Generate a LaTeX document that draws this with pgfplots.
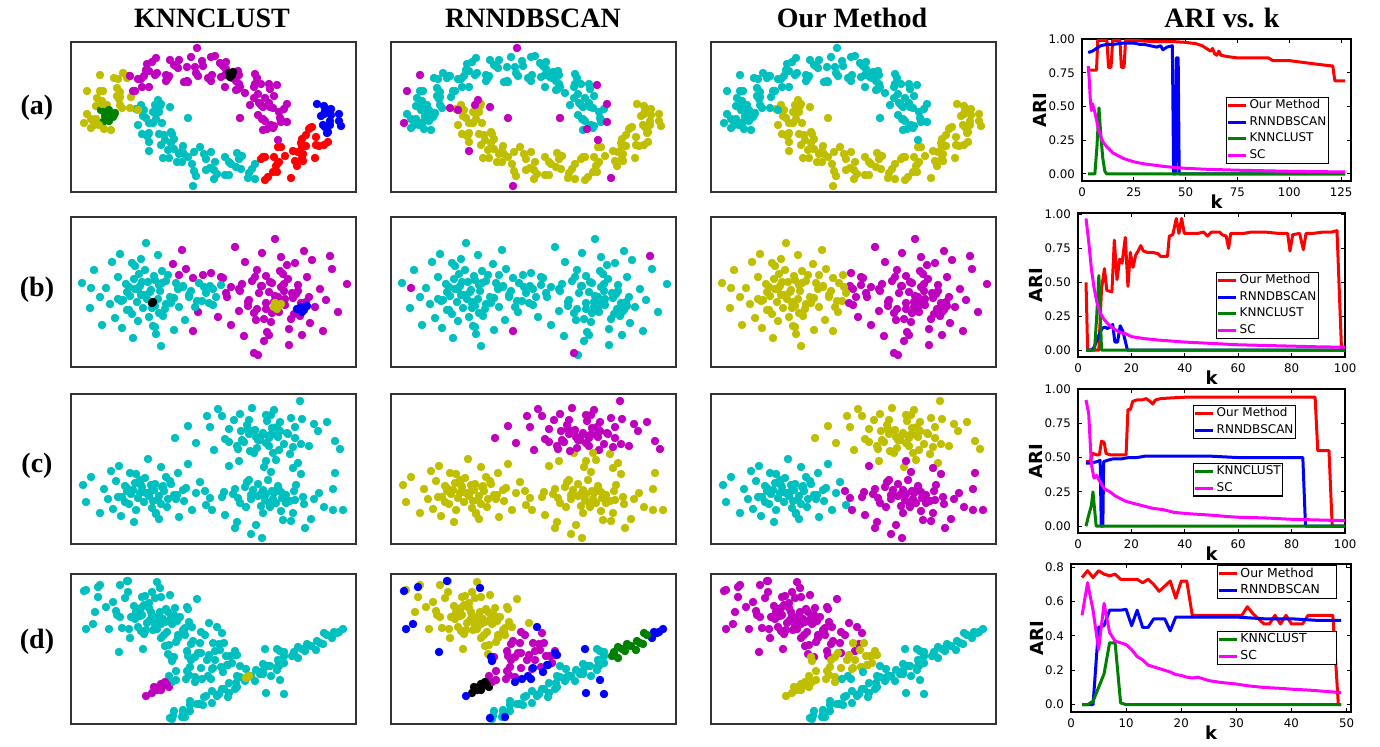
\documentclass[border=0pt]{standalone}
\usepackage{fontspec}
\setmainfont{Liberation Serif}
\newfontfamily\dejavu{DejaVu Sans}
\usepackage{pgfplots}
\usepackage{pgfplotstable}
\pgfplotsset{compat=1.18}
\definecolor{cC}{RGB}{0,191,191}
\definecolor{cM}{RGB}{191,0,191}
\definecolor{cY}{RGB}{191,191,0}
\definecolor{cR}{RGB}{255,0,0}
\definecolor{cB}{RGB}{0,0,255}
\definecolor{cG}{RGB}{0,128,0}
\definecolor{cK}{RGB}{0,0,0}
\definecolor{lR}{RGB}{255,0,0}
\definecolor{lB}{RGB}{0,0,255}
\definecolor{lG}{RGB}{0,128,0}
\definecolor{lM}{RGB}{255,0,255}
\newcommand\titlef{\fontsize{14}{16}\selectfont\bfseries}
\pgfplotsset{
 panel/.style={scale only axis, anchor=south west, width=142.5pt, height=75pt,
   xmin=0, xmax=285, ymin=0, ymax=150, y dir=reverse, xtick=\empty, ytick=\empty,
   axis line style={black!80, line width=0.6pt}},
 clus/.style={only marks, scatter, scatter src=explicit symbolic, mark=*, mark size=1.9pt,
   scatter/classes={c={mark=*,draw=cC,fill=cC}, m={mark=*,draw=cM,fill=cM},
     y={mark=*,draw=cY,fill=cY}, r={mark=*,draw=cR,fill=cR}, b={mark=*,draw=cB,fill=cB},
     g={mark=*,draw=cG,fill=cG}, k={mark=*,draw=cK,fill=cK}}},
 ari/.style={scale only axis, anchor=south west,
   axis line style={black, line width=0.6pt},
   tick style={black, line width=0.5pt}, tick align=inside, major tick length=2pt,
   tick label style={font=\dejavu\fontsize{5.9}{6.5}\selectfont},
   /pgf/number format/assume math mode=true,
   xlabel={k}, ylabel={ARI},
   label style={font=\dejavu\bfseries\fontsize{9}{10}\selectfont},
   xlabel style={yshift=8pt}, ylabel style={yshift=-6pt},
   legend cell align=left,
   legend style={font=\dejavu\fontsize{6}{7}\selectfont, draw=black, line width=0.6pt, inner sep=0pt, row sep=0.3pt, nodes={inner sep=1pt}},
   legend image code/.code={\draw[#1] (1.5pt,0pt) -- (10.5pt,0pt);}},
 sR/.style={color=lR, line width=1.5pt, line join=round},
 sB/.style={color=lB, line width=1.5pt, line join=round},
 sG/.style={color=lG, line width=1.5pt, line join=round},
 sM/.style={color=lM, line width=1.5pt, line join=round},
}
\newcommand\lw[1]{\makebox[47pt][l]{#1}}
\begin{document}
\pgfplotstableread[row sep=\\]{
x y k r o\\
40 88 y c c\\ 23 83 y c c\\ 32 80 g c c\\ 16 72 y c c\\ 39 73 g c c\\ 25 64 y c c\\ 36 63 y c c\\ 51 66 y c c\\ 32 49 y c c\\ 49 55 y c c\\ 46 46 y c c\\ 43 36 y c c\\ 64 49 m c c\\ 58 34 m c c\\ 67 37 m c c\\ 78 45 m c c\\ 75 28 m c c\\ 84 33 m c c\\ 85 16 m c c\\ 97 36 m c c\\ 99 18 m c c\\ 107 26 m c c\\ 113 40 m c c\\ 120 15 m c c\\ 125 31 m c c\\ 132 24 m c c\\ 140 15 m c c\\ 140 39 m c c\\ 152 24 m c c\\ 154 33 m c c\\ 154 45 m c c\\ 168 33 m c c\\ 168 42 m c c\\ 184 32 m c c\\ 174 51 m c c\\ 190 42 m c c\\ 187 52 m c c\\ 179 63 m c c\\ 203 54 m c c\\ 192 65 m c c\\ 202 66 m c c\\ 213 67 m c c\\ 192 77 m c c\\ 210 78 m c c\\ 203 84 m c c\\ 192 88 m c c\\
20 86 y c c\\ 38 79 g c c\\ 30 68 g c c\\ 26 56 y c c\\ 48 57 y c c\\ 60 55 y c c\\ 56 36 y c c\\ 70 37 m c c\\ 76 22 m c c\\ 95 39 m c c\\ 103 23 m c c\\ 116 25 m c c\\ 127 34 m c c\\ 144 14 m c c\\ 150 35 m c c\\ 167 29 m c c\\ 167 47 m c c\\ 183 45 m c c\\ 199 47 m c c\\ 190 63 m c c\\ 187 73 m c c\\ 209 76 m c c\\ 202 86 m c c\\
28 83 y c c\\ 38 74 g c c\\ 31 59 y c c\\ 46 54 y c c\\ 47 37 y c c\\ 71 45 m c c\\ 78 29 m c c\\ 95 33 m c c\\ 108 18 m c c\\ 124 25 m c c\\ 137 36 m c c\\ 155 27 m c c\\ 165 39 m c c\\ 186 36 m c c\\ 183 56 m c c\\ 198 61 m c c\\ 208 70 m c c\\ 200 83 m c c\\ 25 77 y c c\\ 49 63 y c c\\ 52 31 y c c\\ 86 31 m c c\\ 116 39 m c c\\ 149 21 m c c\\ 169 45 m c c\\ 194 56 m c c\\ 194 79 m c c\\
33 87 y c c\\ 20 77 y c c\\ 43 73 g c c\\ 31 62 y c c\\ 29 49 y c c\\ 49 50 y c c\\ 62 49 m c c\\ 59 34 m c c\\ 73 34 m c c\\ 81 20 m c c\\ 98 34 m c c\\ 105 24 m c c\\ 117 40 m c c\\ 131 19 m c c\\ 141 33 m c c\\ 155 20 m c c\\ 161 36 m c c\\ 165 48 m c c\\ 184 42 m c c\\ 198 42 m c c\\ 188 61 m c c\\ 199 65 m c c\\ 191 77 m c c\\ 210 80 m c c\\
90 62 c y y\\ 65 67 c y y\\ 82 70 c y y\\ 75 76 c y y\\ 67 83 c y y\\ 91 81 c y y\\ 78 91 c y y\\ 88 92 c y y\\ 100 90 c y y\\ 90 103 c y y\\ 100 101 c y y\\ 92 116 c y y\\ 112 104 c y y\\ 106 120 c y y\\ 117 115 c y y\\ 129 105 c y y\\ 123 129 c y y\\ 135 117 c y y\\ 139 126 c y y\\ 143 137 c y y\\ 154 115 c y y\\ 158 133 c y y\\ 165 125 c y y\\ 171 114 c y y\\ 178 131 c y y\\ 184 122 c y y\\ 194 138 r y y\\ 194 115 r y y\\ 206 130 r y y\\ 208 120 r y y\\ 207 105 r y y\\ 226 124 r y y\\ 222 109 r y y\\ 232 112 r y y\\ 244 116 r y y\\ 231 97 r y y\\ 248 104 r y y\\ 245 95 r y y\\ 239 86 r y y\\ 257 90 b y y\\ 252 83 b y y\\ 270 84 b y y\\ 250 74 b y y\\ 268 72 b y y\\ 260 67 b y y\\ 246 62 b y y\\
89 64 c y y\\ 72 74 c y y\\ 82 81 c y y\\ 76 94 c y y\\ 101 92 c y y\\ 97 108 c y y\\ 108 112 c y y\\ 123 110 c y y\\ 125 134 c y y\\ 144 120 c y y\\ 154 133 c y y\\ 168 117 c y y\\ 181 127 c y y\\ 197 135 r y y\\ 203 115 r y y\\ 210 105 r y y\\ 231 116 r y y\\ 235 104 r y y\\ 253 103 r y y\\ 241 85 r y y\\ 259 83 b y y\\ 260 73 b y y\\ 253 64 b y y\\
73 68 c y y\\ 85 77 c y y\\ 77 93 c y y\\ 94 98 c y y\\ 103 107 c y y\\ 111 120 c y y\\ 133 112 c y y\\ 143 128 c y y\\ 160 122 c y y\\ 177 136 c y y\\ 190 117 r y y\\ 207 121 r y y\\ 224 119 r y y\\ 231 105 r y y\\ 235 93 r y y\\ 256 91 b y y\\ 259 79 b y y\\ 255 67 b y y\\ 85 72 c y y\\ 78 100 c y y\\ 111 109 c y y\\ 135 128 c y y\\ 166 111 c y y\\ 202 130 r y y\\ 227 110 r y y\\ 257 100 r y y\\ 253 72 b y y\\
70 63 c y y\\ 88 70 c y y\\ 78 81 c y y\\ 71 92 c y y\\ 93 93 c y y\\ 103 97 c y y\\ 98 116 c y y\\ 113 112 c y y\\ 121 122 c y y\\ 140 110 c y y\\ 146 132 c y y\\ 158 120 c y y\\ 170 127 c y y\\ 184 137 c y y\\ 192 115 r y y\\ 205 124 r y y\\ 214 114 r y y\\ 232 119 r y y\\ 230 101 r y y\\ 245 103 r y y\\ 238 87 r y y\\ 254 85 b y y\\ 268 79 b y y\\ 254 69 b y y\\
126 6 m m c\\ 29 33 y m c\\ 16 49 y m c\\ 13 81 y m c\\ 87 58 c m y\\ 84 63 c m y\\ 59 66 y m c\\ 67 68 y m c\\ 99 65 c m y\\ 117 76 c m y\\ 206 43 m m c\\ 216 62 m m c\\ 216 80 m m c\\ 196 87 m m c\\ 207 98 m m c\\ 169 76 m m c\\ 78 109 c m y\\ 122 144 c m y\\ 220 136 r m y\\
36 70 g c c\\ 40 72 g c c\\ 34 74 g c c\\ 42 75 g c c\\ 38 68 g c c\\ 44 71 g c c\\ 158 31 k c c\\ 161 33 k c c\\ 159 35 k c c\\ 162 30 k c c\\
}\rowa
\pgfplotstableread[row sep=\\]{
x y k r o\\
77 65 c c y\\ 52 83 c c y\\ 108 90 c c y\\ 64 49 c c y\\ 92 99 c c y\\ 35 71 c c y\\ 82 109 c c y\\ 73 78 c c y\\ 122 61 m c y\\ 58 93 c c y\\ 87 38 c c y\\ 44 101 c c y\\ 99 80 c c y\\ 68 57 c c y\\ 131 84 c c y\\ 23 53 c c y\\ 84 89 c c y\\ 55 67 c c y\\ 102 47 m c y\\ 62 121 c c y\\ 89 74 c c y\\ 39 87 c c y\\ 78 100 c c y\\ 49 37 c c y\\ 114 103 c c y\\ 69 69 c c y\\ 95 64 c c y\\ 19 91 c c y\\ 75 26 c c y\\ 107 72 c c y\\ 59 79 c c y\\ 85 117 c c y\\ 47 60 c c y\\ 127 95 m c y\\ 66 85 c c y\\ 91 54 c c y\\ 31 108 c c y\\ 80 73 c c y\\ 51 111 c c y\\ 111 33 m c y\\ 72 91 c c y\\ 100 86 c c y\\ 41 45 c c y\\ 88 68 c c y\\ 56 75 c c y\\ 118 78 c c y\\ 63 62 c c y\\ 76 82 c c y\\ 11 66 c c y\\ 103 113 c c y\\ 70 42 c c y\\ 94 92 c c y\\ 29 80 c c y\\ 83 59 c c y\\ 61 97 c c y\\ 139 69 c c m\\ 47 82 c c y\\ 90 129 c c y\\ 67 72 c c y\\ 105 66 c c y\\
70 78 c c y\\ 84 63 c c y\\ 88 96 c c y\\ 58 70 c c y\\ 95 87 c c y\\ 74 53 c c y\\ 103 81 c c y\\ 79 75 c c y\\ 67 104 c c y\\ 91 66 c c y\\ 50 84 c c y\\ 97 58 c c y\\ 81 91 c c y\\ 64 72 c c y\\ 84 110 c c y\\ 61 46 c c y\\ 87 82 c c y\\ 71 65 c c y\\ 56 93 c c y\\ 112 69 c c y\\
201 66 m c m\\ 230 86 m c m\\ 168 94 m c m\\ 216 48 m c m\\ 185 103 m c m\\ 249 72 m c m\\ 196 115 m c m\\ 207 80 m c m\\ 152 61 m c m\\ 223 97 m c m\\ 191 36 m c m\\ 239 106 m c m\\ 178 83 m c m\\ 212 57 m c m\\ 142 88 c c m\\ 261 52 m c m\\ 195 92 m c m\\ 227 68 m c m\\ 174 45 m c m\\ 218 128 m c m\\ 188 76 m c m\\ 244 90 m c m\\ 200 105 m c m\\ 233 34 m c m\\ 160 108 m c m\\ 210 70 m c m\\ 181 64 m c m\\ 267 95 m c m\\ 204 22 m c m\\ 169 74 m c m\\ 222 81 m c m\\ 193 124 m c m\\ 236 60 m c m\\ 147 100 m c m\\ 214 88 m c m\\ 186 53 m c m\\ 252 114 m c m\\ 198 75 m c m\\ 231 118 m c m\\ 164 30 m c m\\ 208 95 m c m\\ 177 89 m c m\\ 241 43 m c m\\ 190 69 m c m\\ 225 77 m c m\\ 156 80 m c m\\ 217 62 m c m\\ 203 85 m c m\\ 276 67 m c m\\ 173 119 m c m\\ 210 40 m c m\\ 183 96 m c m\\ 255 83 m c m\\ 195 59 m c m\\ 220 102 m c m\\ 133 70 c c y\\ 235 85 m c m\\ 187 138 m c m\\ 213 74 m c m\\ 171 67 m c m\\
214 82 m c m\\ 199 65 m c m\\ 193 102 m c m\\ 227 74 m c m\\ 186 92 m c m\\ 209 54 m c m\\ 177 85 m c m\\ 204 79 m c m\\ 218 112 m c m\\ 191 69 m c m\\ 238 80 m c m\\ 184 60 m c m\\ 201 96 m c m\\ 221 76 m c m\\ 198 118 m c m\\ 224 46 m c m\\ 195 86 m c m\\ 213 67 m c m\\ 229 99 m c m\\ 168 72 m c m\\
112 70 c c y\\ 120 74 c c y\\ 128 66 c c y\\ 135 76 c c y\\ 142 72 c c m\\ 150 68 c c m\\ 118 80 c c y\\ 126 84 c c y\\ 145 80 c c m\\ 155 76 m c m\\ 160 70 m c m\\ 132 58 m c y\\ 108 58 m c y\\ 115 52 m c y\\ 140 56 m c m\\ 150 60 m c m\\ 124 90 c c y\\ 138 86 c c m\\
20 71 c m y\\ 122 114 m m y\\ 183 136 m m m\\ 259 39 m m m\\
204 86 y c m\\ 208 89 y c m\\ 206 92 y c m\\ 210 87 y c m\\ 203 90 y c m\\ 230 90 b c m\\ 233 93 b c m\\ 236 89 b c m\\ 231 95 b c m\\ 226 92 b c m\\ 81 86 k c y\\ 82 85 k c y\\
}\rowb
\pgfplotstableread[row sep=\\]{
x y k r o\\
80 91 c y c\\ 51 103 c y c\\ 113 107 c y c\\ 65 80 c y c\\ 96 113 c y c\\ 33 95 c y c\\ 85 120 c y c\\ 75 99 c y c\\ 129 88 c y c\\ 58 110 c y c\\ 90 73 c y c\\ 42 115 c y c\\ 103 101 c y c\\ 69 86 c y c\\ 139 104 c y m\\ 20 83 c y c\\ 87 106 c y c\\ 54 92 c y c\\ 107 79 c y c\\ 63 128 c y c\\ 93 97 c y c\\ 37 105 c y c\\ 81 114 c y c\\ 48 72 c y c\\ 121 116 c y c\\ 71 93 c y c\\ 100 90 c y c\\ 15 108 c y c\\ 77 65 c y c\\ 112 96 c y c\\ 60 100 c y c\\ 88 125 c y c\\ 45 87 c y c\\ 135 111 c y c\\ 67 104 c y c\\ 95 83 c y c\\ 29 119 c y c\\ 83 96 c y c\\ 50 122 c y c\\ 117 70 c y c\\ 73 108 c y c\\ 105 105 c y c\\ 40 77 c y c\\ 91 93 c y c\\ 56 97 c y c\\ 125 99 c y c\\ 64 89 c y c\\ 78 102 c y c\\ 12 91 c y c\\ 108 123 c y c\\
69 99 c y c\\ 84 90 c y c\\ 90 110 c y c\\ 56 94 c y c\\ 97 105 c y c\\ 74 84 c y c\\ 106 101 c y c\\ 79 98 c y c\\ 65 116 c y c\\ 92 92 c y c\\ 47 103 c y c\\ 99 87 c y c\\ 82 107 c y c\\ 62 96 c y c\\ 85 119 c y c\\ 59 79 c y c\\ 88 102 c y c\\ 70 91 c y c\\ 54 108 c y c\\ 115 94 c y c\\
195 49 c m y\\ 170 37 c m y\\ 224 33 c m y\\ 183 59 c y y\\ 209 28 c m y\\ 154 45 c m y\\ 200 21 c m y\\ 191 41 c m y\\ 238 52 c m y\\ 176 31 c m y\\ 205 66 c y y\\ 163 26 c m y\\ 216 39 c m y\\ 186 54 c m y\\ 247 37 c m y\\ 143 56 c m y\\ 201 34 c m y\\ 173 48 c m y\\ 219 60 c y y\\ 181 14 c m y\\ 207 43 c m y\\ 158 35 c m y\\ 196 27 c m y\\ 168 67 c y y\\ 231 25 c m y\\ 187 46 c m y\\ 213 50 c m y\\ 139 33 c m y\\ 193 73 c y y\\ 224 44 c m y\\ 178 40 c m y\\ 203 16 c m y\\ 166 52 c m y\\ 243 30 c m y\\ 184 36 c m y\\ 208 56 c m y\\ 151 22 c m y\\ 198 44 c m y\\ 169 20 c m y\\ 227 69 c y y\\
205 41 c m y\\ 171 46 c m y\\ 198 52 c m y\\ 178 26 c m y\\ 222 53 c m y\\ 192 39 c m y\\ 209 37 c m y\\ 158 48 c m y\\ 195 21 c m y\\ 217 40 c m y\\ 185 43 c m y\\ 202 59 c y y\\ 177 35 c m y\\ 230 50 c m y\\ 189 46 c m y\\ 206 33 c m y\\ 167 55 c m y\\ 199 41 c m y\\ 179 57 c m y\\ 220 24 c m y\\
104 44 c m y\\ 117 32 c m y\\ 136 22 c m y\\ 147 15 c m y\\ 229 7 c m y\\ 269 55 c m y\\ 264 47 c m y\\ 256 28 c m y\\ 125 49 c m y\\
180 101 c y m\\ 233 110 c y m\\ 192 119 c y m\\ 222 74 c y m\\ 154 121 c y m\\ 201 97 c y m\\ 174 93 c y m\\ 253 113 c y m\\ 195 67 c y m\\ 162 100 c y m\\ 211 104 c y m\\ 185 131 c y m\\ 225 91 c y m\\ 141 116 c y m\\ 205 109 c y m\\ 178 86 c y m\\ 240 125 c y m\\ 190 100 c y m\\ 220 127 c y m\\ 158 72 c y m\\ 199 113 c y m\\ 169 109 c y m\\ 230 80 c y m\\ 182 96 c y m\\ 215 101 c y m\\ 151 103 c y m\\ 207 92 c y m\\ 194 106 c y m\\ 262 95 c y m\\ 166 128 c y m\\ 200 78 c y m\\ 175 113 c y m\\ 243 105 c y m\\ 187 90 c y m\\ 210 117 c y m\\ 134 97 c y m\\ 224 106 c y m\\ 180 140 c y m\\ 203 99 c y m\\ 164 95 c y m\\
198 109 c y m\\ 219 107 c y m\\ 176 88 c y m\\ 210 98 c y m\\ 187 102 c y m\\ 232 103 c y m\\ 192 96 c y m\\ 202 105 c y m\\ 153 98 c y m\\ 222 119 c y m\\ 197 86 c y m\\ 215 109 c y m\\ 167 104 c y m\\ 207 94 c y m\\ 190 112 c y m\\ 248 99 c y m\\ 180 105 c y m\\ 212 126 c y m\\ 195 100 c y m\\ 223 97 c y m\\
262 116 c y m\\ 272 116 c y m\\ 191 144 c y m\\ 164 134 c y m\\ 234 134 c y m\\ 264 79 c y m\\
}\rowc
\pgfplotstableread[row sep=\\]{
x y k r o\\
89 38 c y m\\ 60 43 c y m\\ 122 67 c m m\\ 74 22 c y m\\ 105 68 c y m\\ 42 28 c y m\\ 94 72 c y m\\ 84 46 c y m\\ 138 49 c y m\\ 67 53 c y m\\ 99 21 c y m\\ 51 54 c y m\\ 112 56 c y m\\ 78 29 c y m\\ 148 70 c m m\\ 29 11 c y m\\ 96 58 c y m\\ 63 32 c y m\\ 116 33 c y m\\ 72 75 c y m\\ 102 49 c y m\\ 46 41 c y m\\ 90 64 c y m\\ 57 7 c y m\\ 130 79 c m m\\ 80 38 c y m\\ 109 43 c y m\\ 24 38 c y m\\ 86 8 c y m\\ 121 53 c y m\\ 69 42 c y m\\ 97 80 c y m\\ 54 24 c y m\\ 144 77 c m m\\ 76 49 c y m\\ 104 34 c y m\\ 38 55 c y m\\ 92 45 c y m\\ 59 64 c y m\\ 126 25 c y m\\ 82 56 c y m\\ 114 61 c y m\\ 49 11 c y m\\ 100 44 c y m\\ 65 38 c y m\\ 134 61 c m m\\ 73 31 c y m\\ 87 50 c y m\\ 15 16 c y m\\ 117 82 c m m\\ 81 18 c y m\\ 107 64 c y m\\ 35 33 c y m\\ 95 35 c y m\\ 70 57 c y m\\
101 50 c y m\\ 64 45 c y m\\ 93 61 c y m\\ 71 23 c y m\\ 120 70 c m m\\ 86 43 c y m\\ 106 47 c y m\\ 49 43 c y m\\ 90 23 c y m\\ 114 54 c y m\\ 79 46 c y m\\ 98 71 c y m\\ 70 34 c y m\\ 129 69 c m m\\ 84 51 c y m\\ 103 41 c y m\\ 58 55 c y m\\ 94 48 c y m\\ 73 60 c y m\\ 117 35 c y m\\
86 55 c y m\\ 113 59 c y m\\ 57 18 c y m\\ 101 45 c y m\\ 71 41 c y m\\ 130 58 c m m\\ 78 34 c y m\\ 90 50 c y m\\ 27 23 c y m\\ 116 77 c m m\\ 84 24 c y m\\ 107 61 c y m\\ 45 37 c y m\\ 97 38 c y m\\ 75 56 c y m\\ 151 59 c m m\\ 62 43 c y m\\ 103 83 c m m\\ 81 42 c y m\\ 118 48 c y m\\
81 119 m k y\\ 83 113 m k y\\ 90 116 m k y\\ 91 110 m k y\\ 98 113 m k y\\ 98 102 c m y\\ 105 106 c m y\\ 105 97 c m y\\ 115 105 c m y\\ 116 97 c m y\\ 124 103 c m y\\ 120 86 c m y\\ 130 94 c m y\\ 127 79 c m y\\ 141 95 c m y\\ 138 81 c m y\\ 150 93 c m y\\ 142 69 c m y\\ 155 82 c m y\\ 153 69 c m y\\ 164 81 c m y\\ 124 83 c m y\\ 136 86 c m y\\ 144 86 c m y\\ 149 76 c m y\\ 118 101 c m y\\ 101 108 c m y\\ 89 112 m k y\\ 161 89 c m y\\ 119 93 c m y\\ 159 82 c m y\\ 164 77 c m y\\ 156 91 c b y\\
101 145 c c c\\ 103 137 c c c\\ 111 143 c c c\\ 112 136 c c c\\ 119 137 c c c\\ 119 127 c c c\\ 126 130 c c c\\ 132 131 c c c\\ 133 123 c c c\\ 141 129 c c c\\ 141 117 c c c\\ 148 120 c c c\\ 151 115 c c c\\ 158 119 c c c\\ 158 109 c c c\\ 166 113 c c c\\ 166 102 c c c\\ 174 107 c c c\\ 177 103 c c c\\ 184 107 c c c\\ 185 96 c c c\\ 192 100 c c c\\ 192 90 c c c\\ 199 92 c c c\\ 206 96 c c c\\ 207 86 c c c\\ 213 89 c c c\\ 213 78 c c c\\ 221 82 c g c\\ 227 84 c g c\\ 227 73 c g c\\ 234 77 c g c\\ 236 70 c g c\\ 245 76 c g c\\ 246 67 c g c\\ 252 70 c g c\\ 253 59 c g c\\ 261 64 c b c\\ 263 58 c b c\\ 268 58 c b c\\ 272 55 c b c\\ 157 123 c c c\\ 175 95 c c c\\ 200 102 c c c\\ 209 77 c c c\\ 192 97 c c c\\ 165 109 c c c\\ 208 92 c c c\\ 223 78 c g c\\ 169 92 c c c\\ 206 75 c c c\\
102 142 c c c\\ 112 140 c c c\\ 119 131 c c c\\ 129 130 c c c\\ 135 122 c c c\\ 146 122 c c c\\ 153 115 c c c\\ 164 115 c c c\\ 169 103 c c c\\ 180 102 c c c\\ 189 100 c c c\\ 196 92 c c c\\ 207 92 c c c\\ 213 82 c c c\\ 223 81 c g c\\ 231 75 c g c\\ 240 72 c g c\\ 249 69 c g c\\ 256 61 c g c\\ 266 59 c b c\\
13 17 c b m\\ 27 13 c b m\\ 56 7 c b m\\ 89 14 c b m\\ 15 55 c b m\\ 22 50 c b m\\ 48 78 c b m\\ 146 53 c b m\\ 100 83 c b y\\ 101 87 c b y\\ 164 79 c b y\\ 166 81 c b y\\ 157 91 c b y\\ 152 98 c b c\\ 142 94 c b y\\ 137 102 c b c\\ 140 105 c b c\\ 131 105 c b c\\ 124 108 c b y\\ 75 122 m b y\\ 99 144 c b c\\ 114 143 c b c\\ 195 119 c b c\\ 213 120 c b c\\ 209 106 c b c\\ 194 75 c b c\\
90 110 m k y\\ 94 108 m k y\\ 88 113 m k y\\ 92 112 m k y\\ 86 116 m k y\\ 96 111 m k y\\ 176 103 y c c\\ 178 102 y c c\\ 175 104 y c c\\
}\rowd
\begin{tikzpicture}
\useasboundingbox (0pt,0pt) rectangle (690pt,373pt);
\node[font=\titlef] at (106pt,364pt) {KNNCLUST};
\node[font=\titlef] at (266.5pt,364pt) {RNNDBSCAN};
\node[font=\titlef] at (426pt,364pt) {Our Method};
\node[font=\titlef] at (611pt,364pt) {ARI vs. k};
\node[font=\titlef] at (18.5pt,319pt) {(a)};
\node[font=\titlef] at (18.5pt,228pt) {(b)};
\node[font=\titlef] at (18.5pt,140pt) {(c)};
\node[font=\titlef] at (18.5pt,52pt) {(d)};
% row a
\begin{axis}[panel, at={(35.5pt,277pt)}]\addplot[clus] table[x=x,y=y,meta=k]{\rowa};\end{axis}
\begin{axis}[panel, at={(195.5pt,277pt)}]\addplot[clus] table[x=x,y=y,meta=r]{\rowa};\end{axis}
\begin{axis}[panel, at={(355.5pt,277pt)}]\addplot[clus] table[x=x,y=y,meta=o]{\rowa};\end{axis}
% row b
\begin{axis}[panel, at={(35.5pt,189.5pt)}]\addplot[clus] table[x=x,y=y,meta=k]{\rowb};\end{axis}
\begin{axis}[panel, at={(195.5pt,189.5pt)}]\addplot[clus] table[x=x,y=y,meta=r]{\rowb};\end{axis}
\begin{axis}[panel, at={(355.5pt,189.5pt)}]\addplot[clus] table[x=x,y=y,meta=o]{\rowb};\end{axis}
% row c
\begin{axis}[panel, at={(35.5pt,101pt)}]\addplot[clus] table[x=x,y=y,meta=k]{\rowc};\end{axis}
\begin{axis}[panel, at={(195.5pt,101pt)}]\addplot[clus] table[x=x,y=y,meta=r]{\rowc};\end{axis}
\begin{axis}[panel, at={(355.5pt,101pt)}]\addplot[clus] table[x=x,y=y,meta=o]{\rowc};\end{axis}
% row d
\begin{axis}[panel, at={(35.5pt,11pt)}]\addplot[clus] table[x=x,y=y,meta=k]{\rowd};\end{axis}
\begin{axis}[panel, at={(195.5pt,11pt)}]\addplot[clus] table[x=x,y=y,meta=r]{\rowd};\end{axis}
\begin{axis}[panel, at={(355.5pt,11pt)}]\addplot[clus] table[x=x,y=y,meta=o]{\rowd};\end{axis}
% ARI (a)
\begin{axis}[ari, at={(541pt,282.5pt)}, width=134.5pt, height=71pt, xmin=0, xmax=129.8, ymin=-0.052, ymax=1,
  xtick={0,25,50,75,100,125}, ytick={0,0.25,0.5,0.75,1},
  yticklabel style={/pgf/number format/.cd,fixed,fixed zerofill,precision=2},
  legend style={at={(0.535,0.592)}, anchor=north west}]
\addplot[sR] coordinates {(3,0.77)(7,0.77)(7.6,0.99)(12,0.99)(12.8,0.79)(14,0.79)(14.8,0.99)(18.3,0.99)(19,0.79)(20.3,0.79)(21,0.99)(25,0.99)(30,0.985)(35,0.98)(40,0.98)(45,0.98)(50,0.975)(55,0.965)(58,0.95)(60,0.93)(62,0.91)(63,0.93)(64,0.89)(65,0.88)(66,0.91)(67,0.88)(70,0.87)(75,0.86)(80,0.86)(85,0.86)(90,0.86)(92,0.84)(100,0.84)(105,0.83)(110,0.82)(115,0.81)(121,0.80)(122,0.69)(127,0.69)};
\addplot[sB] coordinates {(3,0.90)(5,0.91)(7,0.93)(9,0.95)(12,0.96)(15,0.96)(20,0.97)(25,0.97)(28,0.96)(30,0.96)(33,0.95)(36,0.94)(38,0.95)(39,0.92)(41,0.94)(43.6,0.95)(44.2,0)(45.2,0)(45.5,0.86)(46.4,0.86)(46.9,0)(127,0)};
\addplot[sG] coordinates {(3,0)(6.2,0)(7.2,0.2)(8.2,0.49)(9,0.3)(10,0.12)(11,0.02)(12,0)(127,0)};
\addplot[sM] coordinates {(3,0.80)(3.5,0.70)(4,0.55)(4.5,0.47)(5,0.52)(6,0.47)(7,0.40)(8,0.33)(9,0.28)(10,0.24)(12,0.20)(15,0.155)(20,0.115)(25,0.09)(30,0.075)(40,0.055)(50,0.042)(60,0.035)(75,0.028)(100,0.02)(127,0.015)};
\legend{Our Method,RNNDBSCAN,KNNCLUST,SC}
\end{axis}
% ARI (b)
\begin{axis}[ari, at={(539pt,194.5pt)}, width=133.5pt, height=72pt, xmin=0, xmax=100, ymin=-0.05, ymax=1.01,
  xtick={0,20,40,60,80,100}, ytick={0,0.25,0.5,0.75,1},
  yticklabel style={/pgf/number format/.cd,fixed,fixed zerofill,precision=2},
  legend style={at={(0.517,0.590)}, anchor=north west}]
\addplot[sR] coordinates {(3,0.50)(3.6,0.0)(7.8,0.0)(8.8,0.45)(9.9,0.60)(10.8,0.44)(12.7,0.43)(13.6,0.81)(14.6,0.52)(15.6,0.67)(16.5,0.64)(17.7,0.83)(18.7,0.47)(19.6,0.72)(20.6,0.61)(21.6,0.70)(22.5,0.73)(23.5,0.77)(24.5,0.73)(26,0.72)(28,0.72)(30,0.71)(31,0.69)(33.5,0.69)(34.2,0.84)(35.5,0.85)(36.8,0.97)(37.8,0.86)(38.8,0.97)(39.8,0.86)(42,0.86)(45,0.86)(47,0.87)(48.5,0.84)(50,0.87)(53,0.87)(54,0.85)(55.5,0.84)(56.4,0.75)(57.2,0.86)(60,0.86)(62,0.86)(65,0.87)(70,0.87)(75,0.86)(78.5,0.86)(79.4,0.73)(80.4,0.85)(83,0.86)(84.4,0.74)(85.4,0.86)(88,0.86)(92,0.87)(95,0.87)(97,0.88)(98.7,0.0)(100,0.0)};
\addplot[sB] coordinates {(3,0)(5,0)(6,0.02)(7,0.07)(8,0.12)(9,0.16)(10,0.17)(11,0.16)(12,0.17)(13,0.19)(13.8,0.06)(14.8,0.06)(15.8,0.18)(16.8,0.14)(17.8,0.06)(18.5,0)(100,0)};
\addplot[sG] coordinates {(3,0)(6.2,0)(7,0.25)(7.8,0.55)(8.3,0.3)(8.8,0)(100,0)};
\addplot[sM] coordinates {(3,0.97)(4,0.80)(5,0.60)(6,0.46)(7,0.36)(8,0.29)(9,0.25)(10,0.22)(12,0.18)(14,0.15)(16,0.13)(18,0.12)(20,0.10)(25,0.085)(30,0.075)(40,0.06)(50,0.05)(60,0.04)(70,0.035)(80,0.03)(90,0.025)(100,0.022)};
\legend{Our Method,RNNDBSCAN,KNNCLUST,SC}
\end{axis}
% ARI (c)
\begin{axis}[ari, at={(539pt,106.5pt)}, width=133.5pt, height=72pt, xmin=0, xmax=100, ymin=-0.05, ymax=1,
  xtick={0,20,40,60,80,100}, ytick={0,0.25,0.5,0.75,1},
  yticklabel style={/pgf/number format/.cd,fixed,fixed zerofill,precision=2},
  legend style={at={(0.431,0.889)}, anchor=north west}]
\addplot[sR] coordinates {(3,0.47)(4.5,0.47)(5.5,0.53)(7,0.52)(8,0.52)(8.8,0.62)(9.8,0.61)(10.5,0.53)(12,0.52)(15,0.52)(18,0.52)(18.7,0.85)(19.6,0.85)(20.5,0.91)(22,0.92)(24,0.92)(25.5,0.93)(27,0.91)(28,0.89)(29,0.92)(31,0.93)(35,0.935)(40,0.94)(50,0.94)(60,0.94)(70,0.94)(80,0.94)(88.8,0.94)(89.8,0.55)(94,0.55)(95.2,0)(100,0)};
\addplot[sB] coordinates {(3,0.46)(5,0.46)(7,0.47)(8.3,0.48)(8.7,0)(9.3,0)(9.6,0.47)(11,0.48)(13,0.49)(16,0.49)(19,0.50)(22,0.50)(25,0.51)(30,0.51)(40,0.51)(50,0.51)(60,0.50)(70,0.50)(80,0.50)(84.2,0.50)(85.2,0)(100,0)};
\addplot[sG, forget plot] coordinates {(3,0)(4,0.08)(5,0.15)(5.6,0.25)(6.8,0)(100,0)};
\addplot[sM, forget plot] coordinates {(3,0.92)(4,0.82)(5,0.45)(6,0.35)(7,0.37)(8,0.33)(9,0.30)(10,0.27)(12,0.25)(14,0.22)(16,0.20)(18,0.18)(20,0.17)(24,0.15)(28,0.13)(32,0.12)(36,0.10)(42,0.09)(50,0.08)(56,0.07)(60,0.065)(70,0.06)(80,0.05)(90,0.045)(100,0.04)};
\legend{Our Method,RNNDBSCAN}
\end{axis}
\begin{axis}[ari, hide axis, at={(539pt,106.5pt)}, width=133.5pt, height=72pt, xmin=0, xmax=100, ymin=-0.05, ymax=1,
  legend style={at={(0.431,0.486)}, anchor=north west}]
\addlegendimage{sG}\addlegendentry{KNNCLUST}
\addlegendimage{sM}\addlegendentry{SC}
\end{axis}
% ARI (d)
\begin{axis}[ari, at={(535.5pt,17pt)}, width=140pt, height=74pt, xmin=0, xmax=50.8, ymin=-0.043, ymax=0.819,
  xtick={0,10,20,30,40,50}, ytick={0,0.2,0.4,0.6,0.8},
  yticklabel style={/pgf/number format/.cd,fixed,fixed zerofill,precision=1},
  legend style={at={(0.521,0.993)}, anchor=north west, font=\dejavu\fontsize{6.2}{7}\selectfont}]
\addplot[sR] coordinates {(2,0.74)(3,0.78)(4,0.74)(5,0.78)(6,0.76)(7,0.75)(8,0.76)(9,0.73)(12,0.73)(13,0.71)(14,0.73)(15,0.70)(16,0.66)(17,0.69)(18,0.72)(19,0.62)(20,0.72)(21,0.72)(22,0.52)(25,0.52)(31,0.52)(32,0.57)(33,0.53)(34,0.50)(35,0.47)(36,0.47)(37,0.52)(38,0.47)(39,0.52)(40,0.47)(42,0.47)(43,0.52)(47.5,0.52)(48.5,0)(49,0)};
\addplot[sB] coordinates {(2,0)(4,0)(5,0.45)(6,0.46)(7,0.55)(9,0.55)(10,0.555)(11,0.46)(12,0.55)(13,0.45)(14,0.45)(15,0.50)(17,0.50)(18,0.43)(19,0.51)(25,0.51)(30,0.51)(35,0.50)(40,0.50)(45,0.49)(49,0.49)};
\addplot[sG, forget plot] coordinates {(2,0)(3,0)(4,0.02)(5,0.10)(6,0.18)(7,0.36)(8,0.36)(9,0.01)(10,0)(49,0)};
\addplot[sM, forget plot] coordinates {(2,0.52)(3,0.71)(4,0.55)(5,0.32)(6,0.59)(7,0.42)(8,0.37)(9,0.36)(10,0.35)(11,0.32)(12,0.28)(13,0.26)(14,0.23)(15,0.22)(16,0.21)(17,0.20)(18,0.19)(19,0.175)(20,0.17)(21,0.16)(22,0.155)(23,0.16)(24,0.15)(25,0.14)(27,0.13)(30,0.12)(32,0.11)(35,0.10)(38,0.095)(40,0.09)(43,0.085)(45,0.08)(47,0.075)(49,0.07)};
\legend{\lw{Our Method},\lw{RNNDBSCAN}}
\end{axis}
\begin{axis}[ari, hide axis, at={(535.5pt,17pt)}, width=140pt, height=74pt, xmin=0, xmax=50.8, ymin=-0.043, ymax=0.819,
  legend style={at={(0.521,0.547)}, anchor=north west, font=\dejavu\fontsize{6.2}{7}\selectfont}]
\addlegendimage{sG}\addlegendentry{\lw{KNNCLUST}}
\addlegendimage{sM}\addlegendentry{\lw{SC}}
\end{axis}
\end{tikzpicture}
\end{document}
